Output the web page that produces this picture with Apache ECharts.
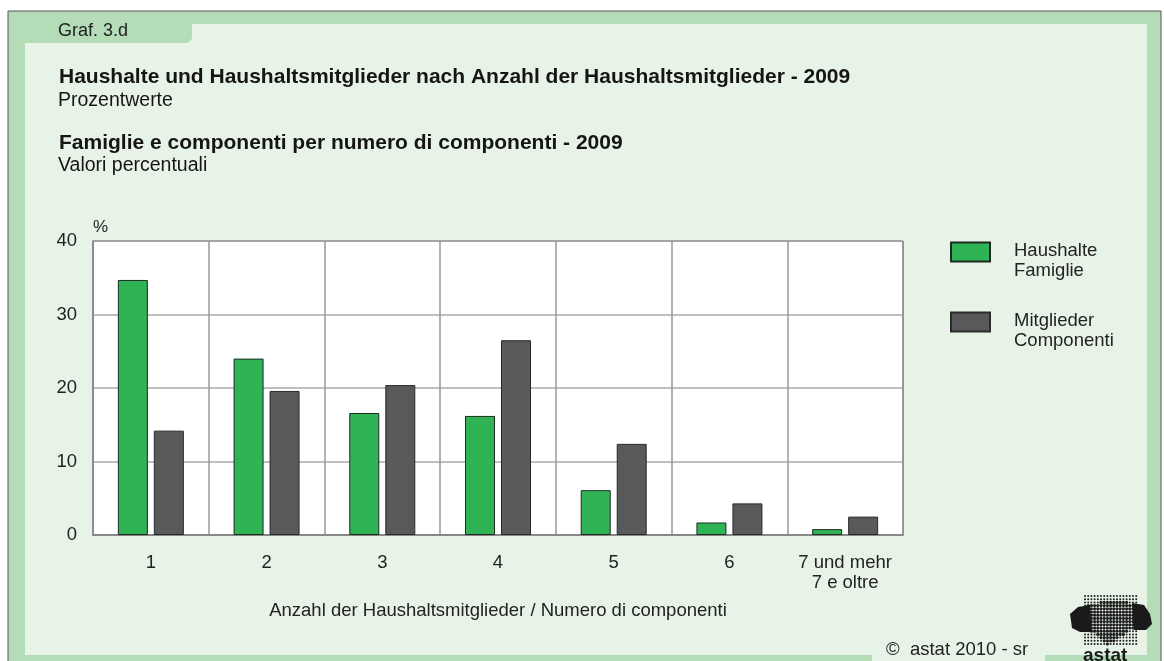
<!DOCTYPE html>
<html><head><meta charset="utf-8">
<script src="https://cdn.jsdelivr.net/npm/echarts@6/dist/echarts.min.js"></script>
<style>html,body{margin:0;padding:0;background:#fff}#c{width:1164px;height:661px}</style>
</head><body><div id="c"></div>
<script>
const categories = ['1','2','3','4','5','6','7 und mehr\n7 e oltre'];
const haushalte = [34.7, 24.0, 16.6, 16.2, 6.1, 1.7, 0.8];
const mitglieder = [14.2, 19.6, 20.4, 26.5, 12.4, 4.3, 2.5];
const seriesNames = ['Haushalte\nFamiglie', 'Mitglieder\nComponenti'];
const yTicks = [0, 10, 20, 30, 40];

const FONT = '"Liberation Sans", Arial, sans-serif';
const LIGHT = '#e8f3e8', GREEN_BAND = '#b3dcb7';

// decorative logo (dotted map)
const mapShape = [[1086,606],[1100,602],[1122,601],[1136,604],[1136,628],[1124,634],[1116,640],[1108,645],[1100,638],[1092,632],[1086,630]];
function inPoly(x, y, pts) {
  let ins = false;
  for (let i = 0, j = pts.length - 1; i < pts.length; j = i++) {
    const xi = pts[i][0], yi = pts[i][1], xj = pts[j][0], yj = pts[j][1];
    if (((yi > y) !== (yj > y)) && (x < (xj - xi) * (y - yi) / (yj - yi) + xi)) ins = !ins;
  }
  return ins;
}
const logo = [];
logo.push({type:'polygon', z:5, shape:{points:[[1070,614],[1078,607],[1090,605],[1092,632],[1080,632],[1072,628]]}, style:{fill:'#1a1a1a'}});
logo.push({type:'polygon', z:5, shape:{points:[[1132,603],[1144,605],[1150,614],[1152,624],[1146,630],[1134,630]]}, style:{fill:'#1a1a1a'}});
for (let yy = 596; yy <= 647; yy += 3.2) {
  for (let xx = 1085; xx <= 1138; xx += 3.2) {
    const big = inPoly(xx, yy, mapShape);
    logo.push({type:'circle', z:4, shape:{cx:xx, cy:yy, r: big ? 1.6 : 1.0}, style:{fill:'#1e1e1e'}});
  }
}

const chart = echarts.init(document.getElementById('c'), null, {renderer:'canvas'});
chart.setOption({
  backgroundColor: '#ffffff',
  textStyle: {fontFamily: FONT},
  animation: false,
  graphic: [
    {type:'rect', z:-10, shape:{x:8,y:11,width:1153,height:660}, style:{fill:GREEN_BAND, stroke:'#555', lineWidth:1}},
    {type:'rect', z:-9, shape:{x:25,y:24,width:1122,height:631}, style:{fill:LIGHT}},
    {type:'rect', z:-8, shape:{x:25,y:24,width:167,height:19, r:[0,0,6,0]}, style:{fill:GREEN_BAND}},
    {type:'rect', z:-8, shape:{x:872,y:636,width:173,height:30, r:[8,8,0,0]}, style:{fill:LIGHT}},
    {type:'text', left:58, top:22, style:{text:'Graf. 3.d', font:'18px '+FONT, fill:'#222'}},
    {type:'text', left:59, top:67, style:{text:'Haushalte und Haushaltsmitglieder nach Anzahl der Haushaltsmitglieder - 2009', font:'bold 21px '+FONT, fill:'#151515'}},
    {type:'text', left:58, top:91, style:{text:'Prozentwerte', font:'19.5px '+FONT, fill:'#151515'}},
    {type:'text', left:59, top:133, style:{text:'Famiglie e componenti per numero di componenti - 2009', font:'bold 21px '+FONT, fill:'#151515'}},
    {type:'text', left:58, top:156, style:{text:'Valori percentuali', font:'19.5px '+FONT, fill:'#151515'}},
    {type:'text', left:93, top:219, style:{text:'%', font:'17px '+FONT, fill:'#222'}},
    {type:'text', left:886, top:640, style:{text:'\u00A9  astat 2010 - sr', font:'18.5px '+FONT, fill:'#222'}},
    {type:'text', left:1083, top:646, z:6, style:{text:'astat', font:'bold 19px '+FONT, fill:'#1a1a1a'}}
  ].concat(logo),
  grid: {left:93, top:241, right:261, bottom:126, show:true, backgroundColor:'#ffffff', borderColor:'#333', borderWidth:1},
  legend: {
    orient:'vertical', left:945, top:222, itemWidth:39, itemHeight:19, itemGap:17,
    icon:'rect',
    formatter: name => '{s| }\n' + name.split('\n').map(t => '{t|' + t + '}').join('\n'),
    textStyle:{fontSize:18.5, color:'#222', fontFamily:FONT, padding:[0,0,0,19],
      rich:{s:{fontSize:10, lineHeight:17}, t:{fontSize:18.5, lineHeight:20, color:'#222', fontFamily:FONT}}},
    data: seriesNames
  },
  xAxis: {
    type:'category', data:categories,
    name:'Anzahl der Haushaltsmitglieder / Numero di componenti', nameLocation:'middle', nameGap:66,
    nameTextStyle:{fontSize:18.5, color:'#222', fontFamily:FONT},
    axisLine:{show:true, lineStyle:{color:'#888', width:2}},
    axisTick:{show:false, interval:0},
    axisLabel:{interval:0, fontSize:18.5, color:'#222', margin:18, lineHeight:20, fontFamily:FONT},
    splitLine:{show:true, interval:0, lineStyle:{color:'#999', width:1.5}}
  },
  yAxis: {
    type:'value', min:0, max:40, interval:10,
    axisLine:{show:true, lineStyle:{color:'#888', width:1.5}},
    axisTick:{show:false},
    axisLabel:{fontSize:18.5, color:'#222', margin:16, fontFamily:FONT, padding:[7,0,0,0],
      formatter: v => yTicks.includes(v) ? String(v) : ''},
    splitLine:{show:true, lineStyle:{color:'#aaa', width:1.5}}
  },
  series: [
    {name:seriesNames[0], type:'bar', data:haushalte, barWidth:30, barGap:'20%',
     itemStyle:{color:'#2fb355', borderColor:'#1e2a20', borderWidth:1}},
    {name:seriesNames[1], type:'bar', data:mitglieder, barWidth:30,
     itemStyle:{color:'#58595b', borderColor:'#2a2a2a', borderWidth:1}}
  ]
});
</script></body></html>
